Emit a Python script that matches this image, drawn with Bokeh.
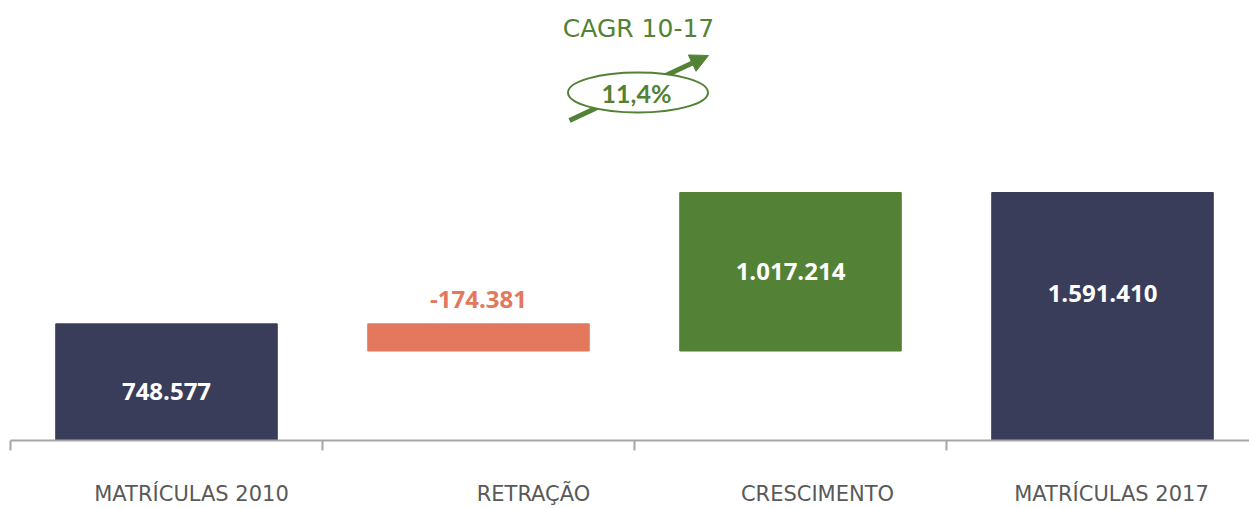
from bokeh.plotting import figure
from bokeh.models import (Range1d, FixedTicker, ColumnDataSource, Arrow, NormalHead)
from bokeh.core.properties import value
from bokeh.embed import file_html
from bokeh.resources import INLINE

# ---- data ----
categories = ["MATRÍCULAS 2010", "RETRAÇÃO", "CRESCIMENTO", "MATRÍCULAS 2017"]
values = [748577, -174381, 1017214, 1591410]
kinds = ["total", "delta", "delta", "total"]
cagr_title = "CAGR 10-17"
cagr_value = "11,4%"

# ---- styles ----
NAVY = "#3A3D59"
ORANGE = "#E3785D"
GREEN = "#538135"
GRAY_TXT = "#595959"
AXIS_GRAY = "#A6A6A6"
label_nudge_px = [9, -24, 0, -23]      # vertical nudges of the value labels
cat_nudge_px = [25, 55, 27, 9]         # horizontal nudges of the category labels

# ---- waterfall geometry from values ----
bottoms, tops, colors, labels, label_y, label_col = [], [], [], [], [], []
running = 0
for v, k in zip(values, kinds):
    if k == "total":
        b, t = 0, v
        running = v
        c = NAVY
    else:
        start = running
        running = running + v
        b, t = min(start, running), max(start, running)
        c = GREEN if v > 0 else ORANGE
    bottoms.append(b)
    tops.append(t)
    colors.append(c)
    labels.append(f"{v:,}".replace(",", "."))
    if v < 0:
        label_y.append(t)
        label_col.append(ORANGE)
    else:
        label_y.append((b + t) / 2)
        label_col.append("#FFFFFF")

xs = [i + 0.5 for i in range(len(categories))]
src = ColumnDataSource(dict(x=xs, bottom=bottoms, top=tops, color=colors,
                            label=labels, ly=label_y, lc=label_col, yo=label_nudge_px))

# ---- figure ----
W, H = 1249, 508
cat_px = 312.0
units_per_px = max(values) / 248.0
frame_h = 440
left_b = 10
frame_w = W - left_b

p = figure(width=W, height=H, output_backend="svg", toolbar_location=None,
           x_range=Range1d(0, frame_w / cat_px), y_range=Range1d(0, frame_h * units_per_px),
           y_axis_location=None, min_border_left=left_b, min_border_right=0,
           min_border_top=0, min_border_bottom=H - frame_h)
p.outline_line_color = None
p.xgrid.visible = False
p.ygrid.visible = False
p.background_fill_color = "white"
p.border_fill_color = "white"

p.vbar(x="x", bottom="bottom", top="top", width=0.71, color="color", source=src)

p.text(x="x", y="ly", text="label", text_color="lc", y_offset="yo", source=src,
       text_align="center", text_baseline="middle", text_font=value("Open Sans"),
       text_font_style="bold", text_font_size="24px")

# axis: boundary ticks as minor ticks, category labels at (nudged) major positions
label_pos = [x + dx / cat_px for x, dx in zip(xs, cat_nudge_px)]
ax = p.xaxis[0]
ax.ticker = FixedTicker(ticks=label_pos, minor_ticks=list(range(len(categories) + 1)))
ax.major_label_overrides = {x: c for x, c in zip(label_pos, categories)}
ax.major_tick_out = 0
ax.major_tick_in = 0
ax.minor_tick_out = 10
ax.minor_tick_in = 0
ax.minor_tick_line_color = AXIS_GRAY
ax.minor_tick_line_width = 2
ax.axis_line_color = AXIS_GRAY
ax.axis_line_width = 2
ax.major_label_text_font = "DejaVu Sans"
ax.major_label_text_font_size = "21px"
ax.major_label_text_color = GRAY_TXT
ax.major_label_standoff = 31

# ---- CAGR annotation ----
def sx(px):
    return (px - left_b) / cat_px

def sy(py):
    return (frame_h - py) * units_per_px

arrow = Arrow(x_start=sx(569), y_start=sy(120), x_end=sx(708), y_end=sy(55),
              line_color=GREEN, line_width=5,
              end=NormalHead(size=18, fill_color=GREEN, line_color=GREEN))
arrow.level = "underlay"
p.add_layout(arrow)

p.ellipse(x=[sx(637.5)], y=[sy(92)], width=[140], height=[40],
          width_units="screen", height_units="screen",
          fill_color="white", line_color=GREEN, line_width=2)

p.text(x=[sx(636)], y=[sy(92)], text=[cagr_value], text_color=GREEN,
       text_align="center", text_baseline="middle", text_font=value("Lato"),
       text_font_style="bold", text_font_size="25px")
p.text(x=[sx(638)], y=[sy(28)], text=[cagr_title], text_color=GREEN,
       text_align="center", text_baseline="middle", text_font=value("DejaVu Sans"),
       text_font_size="25px")

open("out.html", "w").write(file_html(p, INLINE))
